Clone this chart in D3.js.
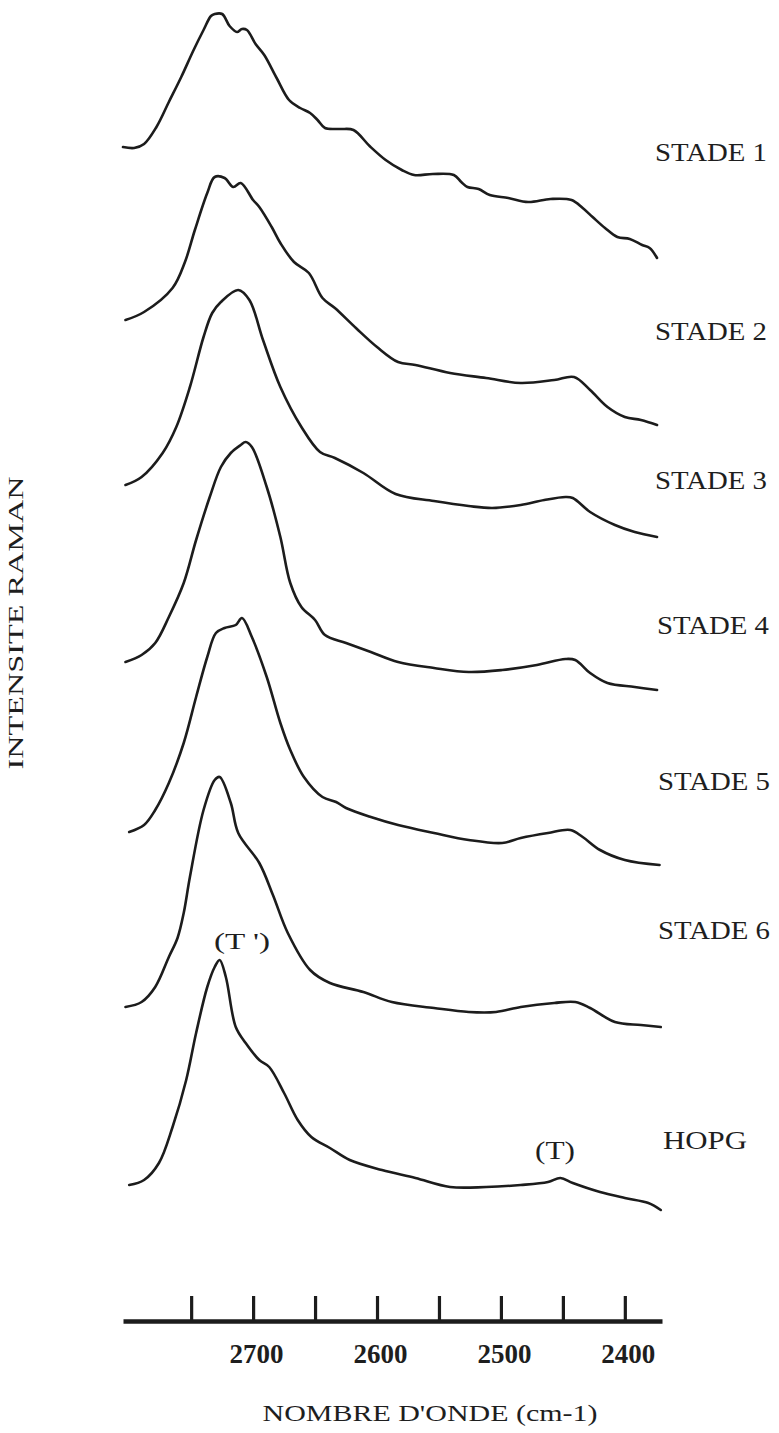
<!DOCTYPE html>
<html>
<head>
<meta charset="utf-8">
<script src="https://cdn.jsdelivr.net/npm/d3@7"></script>
<style>
  html, body { margin: 0; padding: 0; background: #ffffff; }
  svg { display: block; }
  text { font-family: "Liberation Serif", "DejaVu Serif", serif; fill: #1e1e1e; }
</style>
</head>
<body>
<svg id="chart" width="779" height="1433"></svg>
<script>
// ---------- DATA (wavenumber cm-1, relative Raman intensity a.u.) ----------
const seriesNames = ["STADE 1", "STADE 2", "STADE 3", "STADE 4", "STADE 5", "STADE 6", "HOPG"];
// vertical offset of each trace in the stacked plot (a.u.)
const seriesOffsets = [106.3, 89.6, 78.4, 63.1, 45.6, 29.4, 11.1];

const stade1 = [[2805,11.1],[2796,11.0],[2788,11.4],[2778,13.1],[2768,15.6],[2758,18.1],[2748,20.8],[2740,22.8],[2734,24.2],[2731,24.4],[2725,24.4],[2719,23.2],[2713,22.6],[2709,22.9],[2705,22.8],[2698,21.4],[2691,20.3],[2681,18.0],[2671,15.8],[2662,15.0],[2654,14.5],[2648,13.8],[2642,13.0],[2630,12.9],[2619,12.8],[2606,11.2],[2593,9.8],[2580,8.8],[2570,8.3],[2555,8.4],[2538,8.3],[2532,7.6],[2527,7.1],[2518,6.9],[2509,6.3],[2494,6.0],[2478,5.6],[2460,5.9],[2443,5.8],[2434,5.0],[2426,4.1],[2416,3.0],[2406,2.1],[2396,1.9],[2386,1.3],[2380,1.0],[2374,0]];
const stade2 = [[2803,10.5],[2788,11.3],[2765,13.7],[2755,16.3],[2747,19.5],[2737,23.2],[2731,24.8],[2723,24.7],[2716,23.8],[2710,24.2],[2700,22.5],[2695,21.8],[2685,19.8],[2678,18.2],[2667,16.3],[2655,15.2],[2644,12.7],[2634,11.7],[2617,9.7],[2600,7.8],[2583,6.3],[2569,6.0],[2541,5.2],[2512,4.7],[2484,4.2],[2457,4.5],[2441,4.8],[2428,3.5],[2414,1.8],[2400,0.8],[2387,0.5],[2374,0]];
const stade3 = [[2803,5.2],[2790,6.0],[2773,8.4],[2762,11.0],[2751,15.0],[2740,20.0],[2733,22.4],[2726,23.5],[2712,24.7],[2703,23.7],[2692,19.7],[2678,15.0],[2661,11.0],[2646,8.5],[2634,7.9],[2611,6.4],[2585,4.3],[2554,3.6],[2526,3.1],[2507,2.9],[2484,3.2],[2465,3.7],[2448,4.0],[2442,3.9],[2428,2.5],[2408,1.2],[2392,0.5],[2374,0]];
const stade4 = [[2803,2.8],[2790,3.5],[2779,4.7],[2768,7.3],[2756,10.7],[2746,15.0],[2735,19.3],[2726,22.3],[2718,23.7],[2710,24.5],[2706,24.8],[2701,24.3],[2689,20.3],[2678,15.3],[2670,10.7],[2661,8.3],[2650,7.0],[2642,5.5],[2625,4.7],[2605,3.8],[2583,2.8],[2554,2.2],[2526,1.8],[2499,2.0],[2471,2.5],[2448,3.1],[2440,3.0],[2428,1.7],[2414,0.7],[2392,0.3],[2374,0]];
const stade5 = [[2800,3.3],[2788,4.0],[2779,5.5],[2768,8.2],[2756,12.2],[2746,16.8],[2737,20.8],[2730,23.2],[2723,23.7],[2714,24.0],[2709,24.7],[2701,22.8],[2689,18.8],[2678,14.2],[2670,11.5],[2659,8.8],[2644,6.8],[2633,6.3],[2625,5.7],[2605,4.8],[2583,4.0],[2554,3.2],[2526,2.5],[2499,2.2],[2484,2.7],[2462,3.2],[2444,3.5],[2434,2.8],[2420,1.5],[2400,0.5],[2372,0]];
const stade6 = [[2803,2.0],[2790,2.5],[2779,4.0],[2768,7.0],[2761,8.9],[2756,11.4],[2751,15.0],[2740,21.7],[2731,24.7],[2727,25.0],[2718,22.4],[2712,19.4],[2695,16.4],[2684,13.2],[2672,9.4],[2654,5.7],[2638,4.4],[2611,3.5],[2588,2.5],[2554,1.9],[2526,1.5],[2504,1.5],[2484,2.0],[2457,2.4],[2440,2.5],[2428,1.9],[2408,0.5],[2387,0.2],[2371,0]];
const hopg = [[2800,2.5],[2788,3.0],[2776,4.7],[2765,8.3],[2754,13.0],[2746,17.7],[2737,22.3],[2731,24.3],[2727,25.0],[2722,23.3],[2714,18.3],[2706,16.7],[2695,15.0],[2687,14.3],[2675,11.7],[2664,9.0],[2653,7.3],[2638,6.2],[2622,5.0],[2596,4.0],[2569,3.2],[2541,2.3],[2512,2.3],[2484,2.5],[2462,2.8],[2452,3.2],[2442,2.7],[2420,1.8],[2400,1.2],[2381,0.7],[2371,0]];

const seriesData = [stade1, stade2, stade3, stade4, stade5, stade6, hopg];

const tickValues = [2750, 2700, 2650, 2600, 2550, 2500, 2450, 2400];
const tickLabels = { 2700: "2700", 2600: "2600", 2500: "2500", 2400: "2400" };

const xTitle = "NOMBRE D'ONDE (cm-1)";
const yTitle = "INTENSITE RAMAN";
const peakLabels = [
  { text: "(T ')", wn: 2712, series: 6, dy: 1.2 },
  { text: "(T)",   wn: 2455, series: 6, dy: 4.4 }
];

// ---------- DRAW ----------
const svg = d3.select("#chart");
const axisY = 1321;

const x = d3.scaleLinear().domain([2805, 2370]).range([123, 662]);
const y = d3.scaleLinear().domain([0, 132.1]).range([axisY, 0]);

const line = d3.line()
  .x(d => x(d[0]))
  .y(d => d[1])
  .curve(d3.curveCatmullRom.alpha(0.5));

seriesData.forEach((s, i) => {
  const pts = s.map(p => [p[0], y(seriesOffsets[i] + p[1])]);
  svg.append("path")
    .attr("d", line(pts))
    .attr("fill", "none")
    .attr("stroke", "#1c1c1c")
    .attr("stroke-width", 2.6)
    .attr("stroke-linejoin", "round")
    .attr("stroke-linecap", "round");
});

// series labels on the right
const labelBaselines = [161, 340, 489, 634, 790, 939, 1149];
const labelX = [655, 655, 655, 657, 658, 658, 663];
seriesNames.forEach((n, i) => {
  svg.append("text")
    .attr("x", labelX[i])
    .attr("y", labelBaselines[i])
    .attr("font-size", 25)
    .attr("textLength", n === "HOPG" ? 84 : 112)
    .attr("lengthAdjust", "spacingAndGlyphs")
    .text(n);
});

// peak annotations
svg.append("text").attr("x", 242).attr("y", 949).attr("text-anchor", "middle")
  .attr("font-size", 23).attr("textLength", 56).attr("lengthAdjust", "spacingAndGlyphs")
  .text(peakLabels[0].text);
svg.append("text").attr("x", 555).attr("y", 1159).attr("text-anchor", "middle")
  .attr("font-size", 25).attr("textLength", 40).attr("lengthAdjust", "spacingAndGlyphs")
  .text(peakLabels[1].text);

// x axis
const axis = d3.axisBottom(x)
  .tickValues(tickValues)
  .tickSizeInner(-25)
  .tickSizeOuter(0)
  .tickFormat(d => tickLabels[d] || "");

const gAxis = svg.append("g").attr("transform", `translate(0,${axisY})`).call(axis);
gAxis.select(".domain").attr("stroke", "#1c1c1c").attr("stroke-width", 4.5);
gAxis.selectAll(".tick line").attr("stroke", "#1c1c1c").attr("stroke-width", 3.2);
gAxis.selectAll(".tick text")
  .attr("y", 42).attr("dy", 0).attr("dx", 3)
  .attr("font-family", "Liberation Serif, serif")
  .attr("font-size", 27)
  .attr("fill", "#1e1e1e")
  .style("font-weight", "bold");

// axis titles
svg.append("text").attr("x", 430).attr("y", 1421).attr("text-anchor", "middle")
  .attr("font-size", 23).attr("textLength", 335).attr("lengthAdjust", "spacingAndGlyphs")
  .text(xTitle);

svg.append("text")
  .attr("transform", "translate(23,623) rotate(-90)")
  .attr("text-anchor", "middle")
  .attr("font-size", 22).attr("textLength", 293).attr("lengthAdjust", "spacingAndGlyphs")
  .text(yTitle);
</script>
</body>
</html>
